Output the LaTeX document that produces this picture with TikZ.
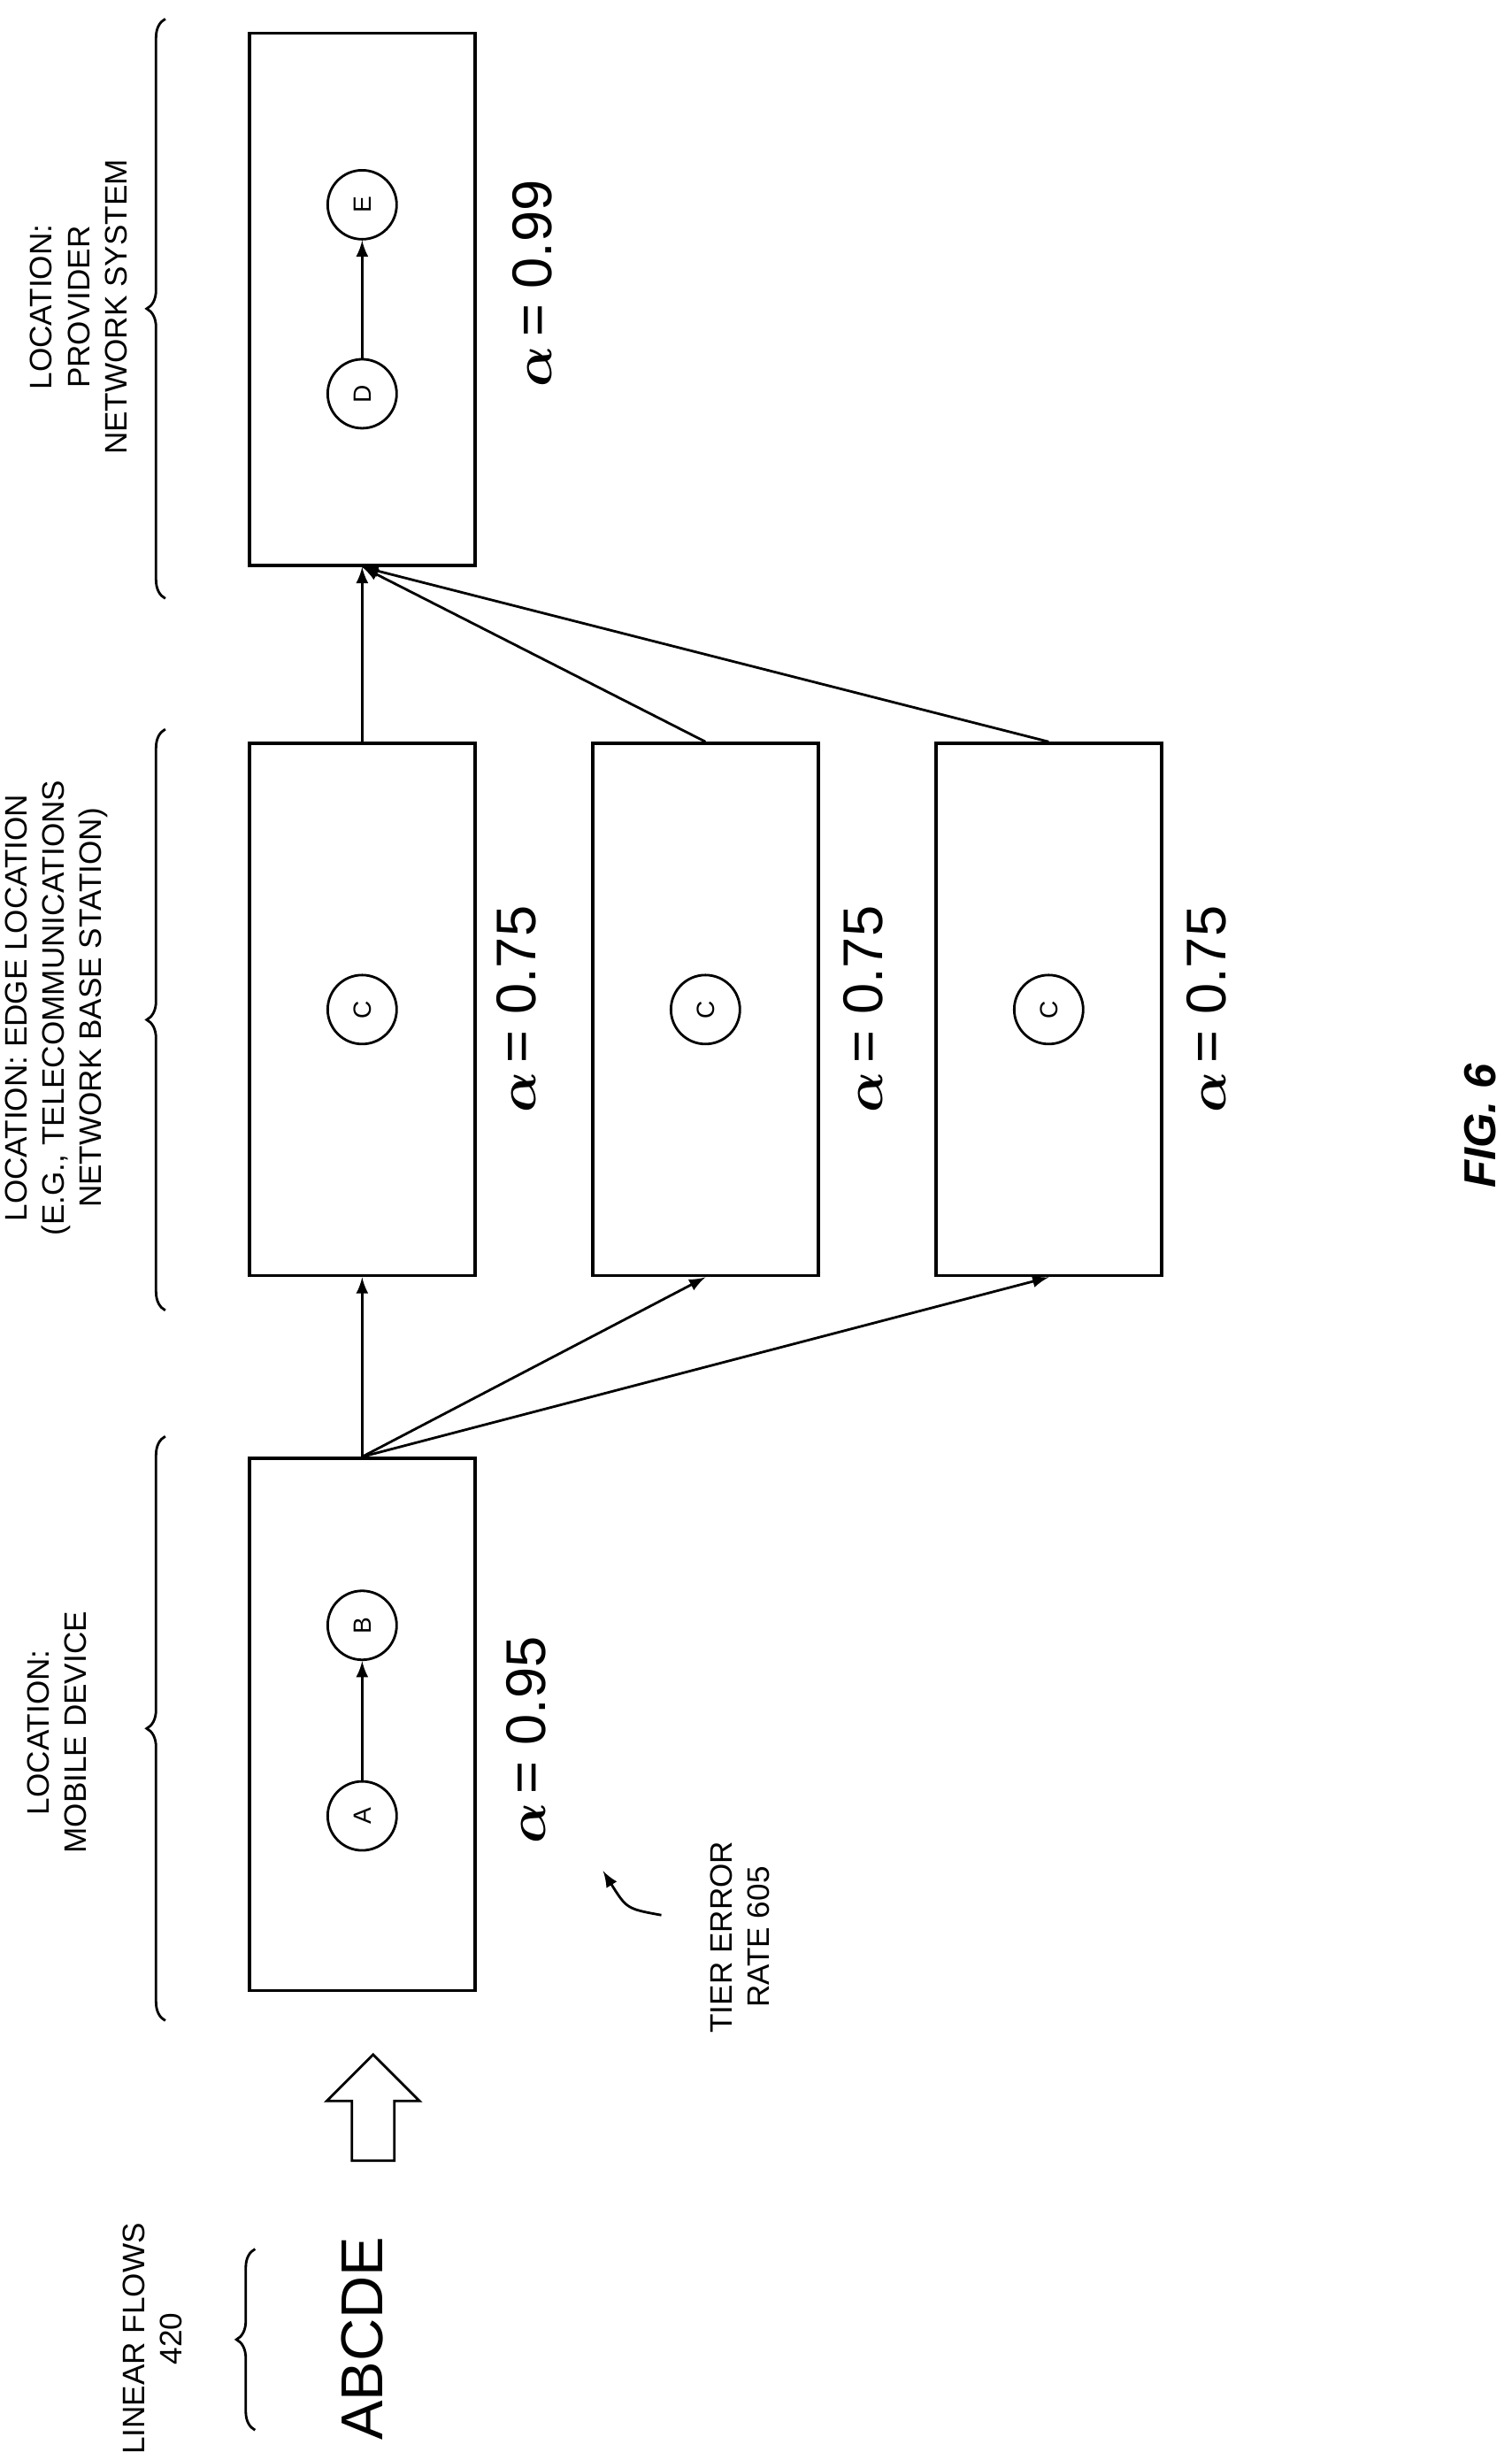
\documentclass[tikz,border=0pt]{standalone}
\usepackage{amsmath,bm}
\usepackage{fontspec}
\setmainfont{Liberation Sans}
\usetikzlibrary{arrows,decorations.pathreplacing,shapes.arrows}

\begin{document}
\begin{tikzpicture}[x=0.0178cm,y=-0.0178cm,
  tier/.style={draw, line width=1pt, minimum width=2.55cm, minimum height=6.02cm},
  func/.style={draw, circle, line width=0.8pt, minimum size=0.78cm, inner sep=0pt, font=\footnotesize, rotate=90},
  lbl/.style={rotate=90, align=center, font=\fontsize{10}{12}\selectfont},
  alpha/.style={rotate=90, font=\fontsize{18}{21}\selectfont},
  br/.style={decorate, decoration={brace, amplitude=6pt}, line width=0.8pt}]
\useasboundingbox (0,0) rectangle (960,1562);

% tiers
\node[tier] (mob) at (230,1095) {};
\node[tier] (edgeA) at (230,641) {};
\node[tier] (edgeB) at (448,641) {};
\node[tier] (edgeC) at (666,641) {};
\node[tier] (prov) at (230,190) {};

% functions
\node[func] (a) at (230,1153) {A};
\node[func] (b) at (230,1032) {B};
\node[func] (c1) at (230,641) {C};
\node[func] (c2) at (448,641) {C};
\node[func] (c3) at (666,641) {C};
\node[func] (d) at (230,250) {D};
\node[func] (e) at (230,130) {E};
\draw[-latex, line width=0.8pt] (a) -- (b);
\draw[-latex, line width=0.8pt] (d) -- (e);

% connections
\draw[-latex, line width=0.8pt] (mob.north) -- (edgeA.south);
\draw[-latex, line width=0.8pt] (mob.north) -- (edgeB.south);
\draw[-latex, line width=0.8pt] (mob.north) -- (edgeC.south);
\draw[-latex, line width=0.8pt] (edgeA.north) -- (prov.south);
\draw[-latex, line width=0.8pt] (edgeB.north) -- (prov.south);
\draw[-latex, line width=0.8pt] (edgeC.north) -- (prov.south);

% error rates
\node[alpha] (amob) at (334,1105) {$\bm{\alpha}$\,= 0.95};
\node[alpha] (aedgeA) at (328,641) {$\bm{\alpha}$\,= 0.75};
\node[alpha] (aedgeB) at (548,641) {$\bm{\alpha}$\,= 0.75};
\node[alpha] (aedgeC) at (766,641) {$\bm{\alpha}$\,= 0.75};
\node[alpha] (aprov) at (338,180) {$\bm{\alpha}$\,= 0.99};

% locations
\coordinate (m1) at (105,1283); \coordinate (m2) at (105,912);
\coordinate (e1) at (105,832); \coordinate (e2) at (105,463);
\coordinate (p1) at (105,380); \coordinate (p2) at (105,12);
\draw[br] (m1) -- (m2);
\draw[br] (e1) -- (e2);
\draw[br] (p1) -- (p2);
\node[lbl] (lmob) at (36,1100) {LOCATION:\\MOBILE DEVICE};
\node[lbl] (ledge) at (36,640) {LOCATION: EDGE LOCATION\\(E.G., TELECOMMUNICATIONS\\NETWORK BASE STATION)};
\node[lbl] (lprov) at (50,195) {LOCATION:\\PROVIDER\\NETWORK SYSTEM};

% linear flows
\coordinate (f1) at (162,1543); \coordinate (f2) at (162,1428);
\draw[br] (f1) -- (f2);
\node[lbl] (lflows) at (97,1485) {LINEAR FLOWS\\420};
\node[rotate=90, font=\fontsize{19}{22}\selectfont] (flows) at (230,1485) {ABCDE};
\node[single arrow, draw, line width=0.8pt, rotate=90, minimum height=1.2cm,
  minimum width=1.05cm, single arrow head extend=0.1cm, inner sep=2pt] (big) at (237,1345) {};

% tier error rate
\node[lbl] (ltier) at (470,1230) {TIER ERROR\\RATE 605};
\coordinate (t0) at (420,1216);
\coordinate (t1) at (383,1188);
\draw[-latex, line width=0.8pt] (t0) .. controls (398,1212) .. (t1);

\node[rotate=90, font=\Large\bfseries\itshape] (fig) at (940,715) {FIG. 6};
\end{tikzpicture}
\end{document}
